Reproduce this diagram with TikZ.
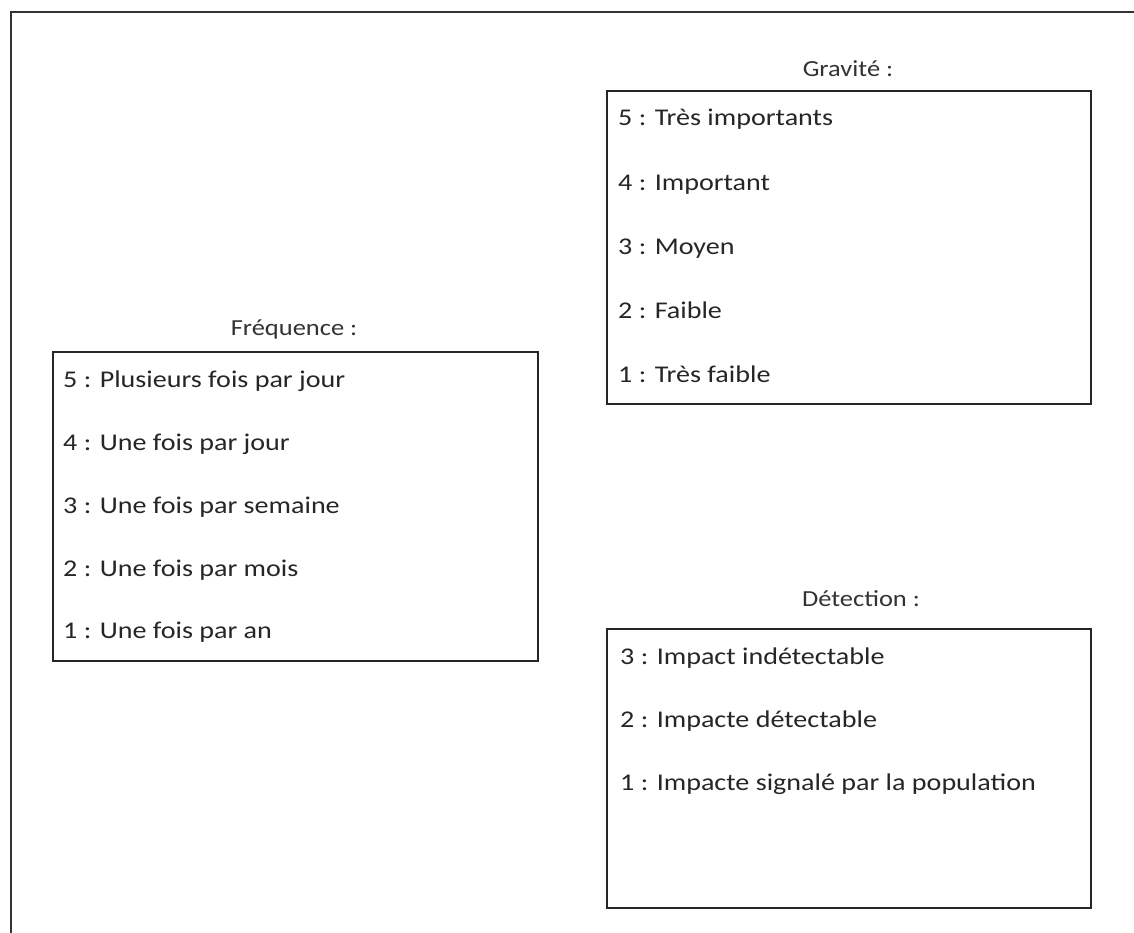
\documentclass[tikz,border=0pt]{standalone}
\usepackage{fontspec}
\setmainfont[FakeStretch=1.15]{Carlito}
\newfontfamily\itemfont[FakeStretch=1.17]{Carlito}
\begin{document}
\begin{tikzpicture}[x=1pt,y=-1pt,
  frame/.style={draw=black!80,line width=1.6pt},
  box/.style={draw=black!85,line width=1.4pt,minimum width=#1,inner sep=0pt},
  title/.style={font=\fontsize{23}{26}\selectfont,text=black!80,inner sep=0pt},
  item/.style={font=\itemfont\fontsize{24}{27}\selectfont,text=black!85,anchor=mid west,inner sep=0pt}]
\useasboundingbox (0,0) rectangle (1134,933);
\fill[white] (0,0) rectangle (1134,933);
\coordinate (ftl) at (11,12);
\coordinate (ftr) at (1140,12);
\coordinate (fbl) at (11,940);
\draw[frame] (ftr) -- (ftl) -- (fbl);
% boxes
\node[box=485pt,minimum height=309pt] (fbox) at (295.5,506.5) {};
\node[box=484pt,minimum height=313pt] (gbox) at (849,247.5) {};
\node[box=484pt,minimum height=279pt] (dbox) at (849,768.5) {};
% titles
\node[title] (ft) at (294,329) {Fréquence :};
\node[title] (gt) at (848,69) {Gravité :};
\node[title] (dt) at (861,599) {Détection :};
% Fréquence items
\node[item] (f5) at (63,385) {5 : Plusieurs fois par jour};
\node[item] (f4) at (63,448) {4 : Une fois par jour};
\node[item] (f3) at (63,511) {3 : Une fois par semaine};
\node[item] (f2) at (63,574) {2 : Une fois par mois};
\node[item] (f1) at (63,636) {1 : Une fois par an};
% Gravité items
\node[item] (g5) at (618,123) {5 : Très importants};
\node[item] (g4) at (618,188) {4 : Important};
\node[item] (g3) at (618,252) {3 : Moyen};
\node[item] (g2) at (618,316) {2 : Faible};
\node[item] (g1) at (618,380) {1 : Très faible};
% Détection items
\node[item] (d3) at (620,662) {3 : Impact indétectable};
\node[item] (d2) at (620,725) {2 : Impacte détectable};
\node[item] (d1) at (620,788) {1 : Impacte signalé par la population};
\end{tikzpicture}
\end{document}
